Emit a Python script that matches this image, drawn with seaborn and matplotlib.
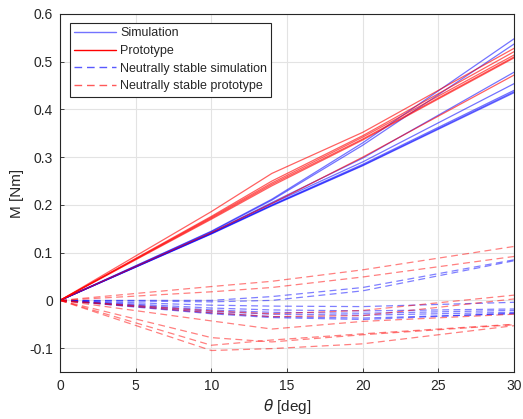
import numpy as np
import pandas as pd
import matplotlib
matplotlib.use("Agg")
import matplotlib.pyplot as plt
from matplotlib.lines import Line2D
import seaborn as sns

# Deflection angles at which the moment was evaluated
theta = [0, 10, 14, 20, 30]

# Restoring moment, simulation runs
simulation = [
    [0, 0.145, 0.212, 0.330, 0.548],
    [0, 0.144, 0.210, 0.325, 0.537],
    [0, 0.142, 0.205, 0.298, 0.478],
    [0, 0.141, 0.203, 0.290, 0.454],
    [0, 0.140, 0.200, 0.285, 0.440],
    [0, 0.140, 0.199, 0.283, 0.437],
    [0, 0.139, 0.198, 0.282, 0.435],
]

# Restoring moment, prototype measurements
prototype = [
    [0, 0.186, 0.266, 0.352, 0.528],
    [0, 0.176, 0.250, 0.345, 0.521],
    [0, 0.174, 0.246, 0.342, 0.514],
    [0, 0.172, 0.243, 0.338, 0.510],
    [0, 0.170, 0.240, 0.336, 0.508],
    [0, 0.142, 0.203, 0.300, 0.472],
]

# Neutrally stable configuration, simulation
ns_simulation = [
    [0, 0.000, 0.008, 0.027, 0.085],
    [0, -0.003, 0.000, 0.020, 0.083],
    [0, -0.010, -0.012, -0.013, -0.004],
    [0, -0.016, -0.020, -0.022, -0.018],
    [0, -0.020, -0.025, -0.027, -0.021],
    [0, -0.023, -0.029, -0.031, -0.025],
    [0, -0.026, -0.034, -0.037, -0.028],
    [0, -0.028, -0.036, -0.040, -0.027],
]

# Neutrally stable configuration, prototype
ns_prototype = [
    [0, 0.029, 0.040, 0.064, 0.113],
    [0, 0.018, 0.027, 0.049, 0.092],
    [0, -0.022, -0.028, -0.021, 0.011],
    [0, -0.026, -0.034, -0.032, 0.003],
    [0, -0.043, -0.060, -0.044, -0.029],
    [0, -0.078, -0.087, -0.072, -0.051],
    [0, -0.094, -0.083, -0.070, -0.050],
    [0, -0.105, -0.101, -0.091, -0.053],
]


def to_long(runs):
    rows = []
    for i, run in enumerate(runs):
        for t, m in zip(theta, run):
            rows.append({"theta": t, "M": m, "run": i})
    return pd.DataFrame(rows)


sns.set_theme(style="whitegrid")
plt.rcParams["font.family"] = ["Liberation Sans", "DejaVu Sans"]
plt.rcParams["mathtext.fontset"] = "dejavusans"

fig = plt.figure(figsize=(5.23, 4.19), dpi=100)
ax = fig.add_axes([0.1147, 0.1122, 0.8681, 0.8544])

blue_solid = (0, 0, 1, 0.55)
red_solid = (1, 0, 0, 0.62)
blue_dash = (0, 0, 1, 0.5)
red_dash = (1, 0, 0, 0.5)
dash = (0, (5.5, 3.5))
lw = 0.9

sns.lineplot(data=to_long(simulation), x="theta", y="M", units="run",
             estimator=None, color=blue_solid, lw=lw, ax=ax)
sns.lineplot(data=to_long(prototype), x="theta", y="M", units="run",
             estimator=None, color=red_solid, lw=lw, ax=ax)
sns.lineplot(data=to_long(ns_simulation), x="theta", y="M", units="run",
             estimator=None, color=blue_dash, lw=lw, linestyle=dash, ax=ax)
sns.lineplot(data=to_long(ns_prototype), x="theta", y="M", units="run",
             estimator=None, color=red_dash, lw=lw, linestyle=dash, ax=ax)

ax.set_xlim(0, 30)
ax.set_ylim(-0.15, 0.6)
ax.set_xticks([0, 5, 10, 15, 20, 25, 30])
ax.set_yticks([-0.1, 0, 0.1, 0.2, 0.3, 0.4, 0.5, 0.6])
ax.set_yticklabels(["-0.1", "0", "0.1", "0.2", "0.3", "0.4", "0.5", "0.6"])

ax.grid(True, color="#e3e3e3", lw=0.8)
ax.set_facecolor("white")
for s in ax.spines.values():
    s.set_color("#262626")
    s.set_linewidth(0.8)
ax.tick_params(axis="both", direction="in", length=3, width=0.6,
               colors="#262626", labelsize=10, labelcolor="#262626",
               left=True, bottom=True, pad=5)

ax.set_xlabel(r"$\theta$ [deg]", fontsize=11, color="#262626", labelpad=3)
ax.set_ylabel("M [Nm]", fontsize=11, color="#262626", labelpad=4)

handles = [
    Line2D([], [], color=(0.45, 0.45, 1.0), lw=1.0),
    Line2D([], [], color=(1.0, 0.0, 0.0), lw=1.0),
    Line2D([], [], color=(0.35, 0.35, 1.0), lw=1.0, linestyle=(0, (5.5, 3.5))),
    Line2D([], [], color=(1.0, 0.35, 0.35), lw=1.0, linestyle=(0, (5.5, 3.5))),
]
labels = ["Simulation", "Prototype", "Neutrally stable simulation",
          "Neutrally stable prototype"]
leg = ax.legend(handles, labels, loc="upper left", bbox_to_anchor=(0.022, 0.975),
                fontsize=9, frameon=True, fancybox=False, framealpha=1,
                edgecolor="#262626", handlelength=3.3, handletextpad=0.35,
                labelspacing=0.45, borderpad=0.35, borderaxespad=0.0)
leg.get_frame().set_linewidth(0.8)
for t in leg.get_texts():
    t.set_color("#262626")

fig.savefig("out.png", dpi=100, facecolor="white")
